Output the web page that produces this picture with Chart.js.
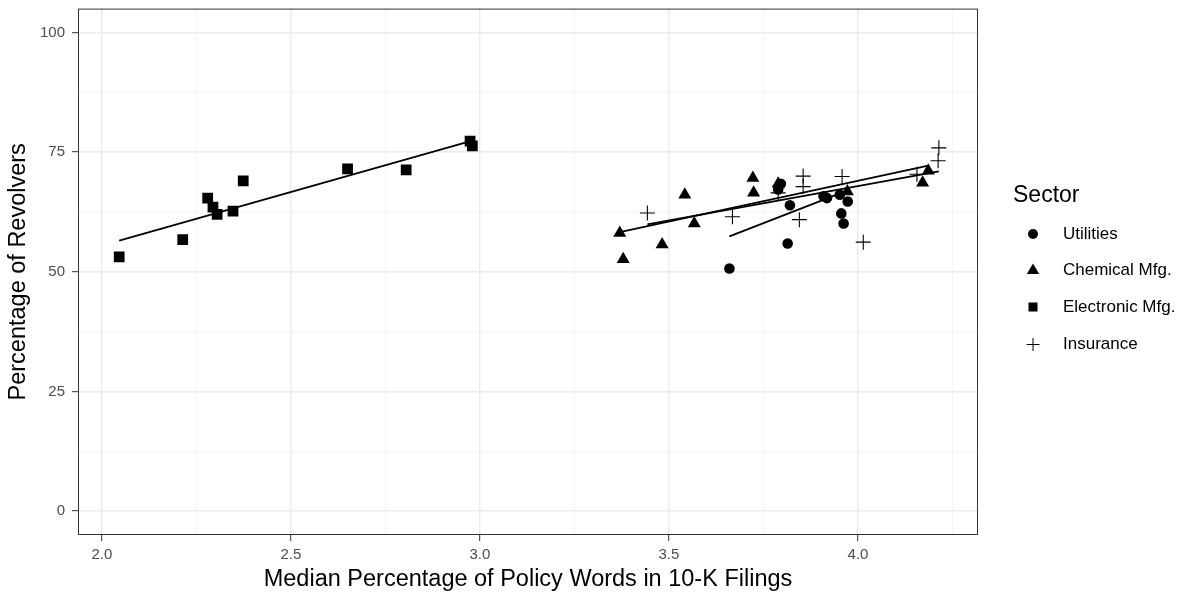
<!DOCTYPE html>
<html>
<head>
<meta charset="utf-8">
<script src="https://cdn.jsdelivr.net/npm/chart.js@4.4.1/dist/chart.umd.min.js"></script>
<style>
html, body { margin: 0; padding: 0; background: #fff; }
#wrap { position: relative; width: 1189px; height: 592px; font-family: "Liberation Sans", Arial, sans-serif; }
#legend .ttl { position: absolute; left: 1013px; top: 183px; font-size: 23px; line-height: 23px; color: #000; white-space: nowrap; }
#legend .row { position: absolute; left: 1020px; height: 20px; line-height: 20px; font-size: 17px; color: #000; white-space: nowrap; display: flex; align-items: center; }
#legend svg { width: 26px; height: 20px; display: block; }
#legend span { margin-left: 17px; }
</style>
</head>
<body>
<div id="wrap">
  <canvas id="scatter" width="1189" height="592"></canvas>
  <div id="legend">
    <div class="ttl">Sector</div>
    <div class="row" style="top:224px"><svg viewBox="0 0 26 20"><circle cx="13" cy="10" r="5" fill="#000"/></svg><span>Utilities</span></div>
    <div class="row" style="top:260px"><svg viewBox="0 0 26 20"><polygon points="13,3.5 19.2,14 6.8,14" fill="#000"/></svg><span>Chemical Mfg.</span></div>
    <div class="row" style="top:297px"><svg viewBox="0 0 26 20"><rect x="8.5" y="5.5" width="9" height="9" fill="#000"/></svg><span>Electronic Mfg.</span></div>
    <div class="row" style="top:334px"><svg viewBox="0 0 26 20"><path d="M6.5 10.5H19.5M13 4V17" stroke="#000" stroke-width="1"/></svg><span>Insurance</span></div>
  </div>
</div>
<script>
// points, one pair of arrays per sector
const utilX = [3.660, 3.796, 3.789, 3.820, 3.814, 3.909, 3.918, 3.952, 3.973, 3.956, 3.962]
const utilY = [50.7, 68.4, 67.2, 63.9, 55.9, 65.8, 65.4, 66.1, 64.7, 62.2, 60.1]

const chemX = [3.370, 3.379, 3.482, 3.542, 3.567, 3.722, 3.724, 3.789, 3.972, 4.171, 4.186]
const chemY = [58.1, 52.6, 55.7, 66.1, 60.1, 69.6, 66.5, 68.4, 66.8, 68.6, 71.1]

const elecX = [2.046, 2.214, 2.280, 2.294, 2.305, 2.347, 2.374, 2.650, 2.805, 2.974, 2.980]
const elecY = [53.1, 56.7, 65.4, 63.5, 62.0, 62.7, 69.0, 71.5, 71.3, 77.3, 76.3]

const insX = [3.443, 3.668, 3.789, 3.855, 3.855, 3.845, 3.958, 4.014, 4.156, 4.212, 4.214]
const insY = [62.3, 61.5, 66.5, 70.0, 67.8, 60.9, 69.9, 56.2, 70.4, 73.2, 75.9]

// fitted line ends, also
const utilFitX = [3.660, 3.973]
const utilFitY = [57.4, 67.0]
const chemFitX = [3.370, 4.186]
const chemFitY = [58.3, 72.2]
const elecFitX = [2.046, 2.980]
const elecFitY = [56.5, 77.4]
const insFitX = [3.443, 4.214]
const insFitY = [59.9, 71.0]

const xMajor = [2.0, 2.5, 3.0, 3.5, 4.0]
const xMinor = [2.25, 2.75, 3.25, 3.75, 4.25]
const yMajor = [0, 25, 50, 75, 100]
const yMinor = [12.5, 37.5, 62.5, 87.5]

const toPoints = (xs, ys) => xs.map((x, i) => ({ x: x, y: ys[i] }))

function pointSet(label, xs, ys, style, radius) {
	return {
		label: label,
		data: toPoints(xs, ys),
		pointStyle: style,
		pointRadius: radius,
		backgroundColor: "#000",
		borderColor: "#000",
		borderWidth: style === "cross" ? 1.1 : 0,
		order: 1,
	}
}

function fitSet(xs, ys) {
	return {
		data: toPoints(xs, ys),
		showLine: true,
		pointRadius: 0,
		borderColor: "#000",
		borderWidth: 1.8,
		fill: false,
		order: 0,
	}
}

function gridFor(minor) {
	return {
		color: ctx => (ctx.tick && minor.includes(ctx.tick.value)) ? "#F2F2F2" : "#EBEBEB",
		lineWidth: ctx => (ctx.tick && minor.includes(ctx.tick.value)) ? 0.8 : 1.4,
		tickColor: ctx => (ctx.tick && minor.includes(ctx.tick.value)) ? "rgba(0,0,0,0)" : "#333333",
		tickLength: 6,
		tickWidth: 1,
		drawTicks: true,
	}
}

// panel border on all four sides
const panelBorder = {
	id: "panelBorder",
	afterDraw(chart) {
		const { ctx, chartArea: a } = chart
		ctx.save()
		ctx.strokeStyle = "#333333"
		ctx.lineWidth = 1
		ctx.strokeRect(a.left + 0.5, a.top + 0.5, a.right - a.left - 1, a.bottom - a.top - 1)
		ctx.restore()
	},
}

const font = "'Liberation Sans', Arial, sans-serif"

new Chart(document.getElementById("scatter"), {
	type: "scatter",
	data: {
		datasets: [
			pointSet("Utilities", utilX, utilY, "circle", 5.3),
			pointSet("Chemical Mfg.", chemX, chemY, "triangle", 7.5),
			pointSet("Electronic Mfg.", elecX, elecY, "rect", 7.6),
			pointSet("Insurance", insX, insY, "cross", 7.5),
			fitSet(utilFitX, utilFitY),
			fitSet(chemFitX, chemFitY),
			fitSet(elecFitX, elecFitY),
			fitSet(insFitX, insFitY),
		],
	},
	options: {
		responsive: false,
		animation: false,
		events: [],
		layout: { padding: { top: 8, right: 211, bottom: 0, left: 0 } },
		plugins: {
			legend: { display: false },
			tooltip: { enabled: false },
		},
		scales: {
			x: {
				type: "linear",
				min: 1.937,
				max: 4.3175,
				afterBuildTicks: s => { s.ticks = [...xMajor, ...xMinor].sort((a, b) => a - b).map(v => ({ value: v })) },
				afterFit: s => { s.height = 57; s.paddingLeft = 0; s.paddingRight = 0 },
				grid: gridFor(xMinor),
				border: { display: false },
				ticks: {
					autoSkip: false,
					maxRotation: 0,
					padding: 5,
					color: "#4D4D4D",
					font: { family: font, size: 15 },
					callback: v => xMinor.includes(v) ? "" : v.toFixed(1),
				},
				title: {
					display: true,
					text: "Median Percentage of Policy Words in 10-K Filings",
					color: "#000",
					font: { family: font, size: 23.5, lineHeight: 1 },
					padding: { top: 0, bottom: 1 },
				},
			},
			y: {
				type: "linear",
				min: -5,
				max: 105,
				afterBuildTicks: s => { s.ticks = [...yMajor, ...yMinor].sort((a, b) => a - b).map(v => ({ value: v })) },
				afterFit: s => { s.width = 78; s.paddingTop = 0; s.paddingBottom = 0 },
				grid: gridFor(yMinor),
				border: { display: false },
				ticks: {
					autoSkip: false,
					padding: 7,
					color: "#4D4D4D",
					font: { family: font, size: 15 },
					callback: v => yMinor.includes(v) ? "" : String(v),
				},
				title: {
					display: true,
					text: "Percentage of Revolvers",
					color: "#000",
					font: { family: font, size: 23.5, lineHeight: 1 },
					padding: { top: 7, bottom: 0 },
				},
			},
		},
	},
	plugins: [panelBorder],
})
</script>
</body>
</html>
